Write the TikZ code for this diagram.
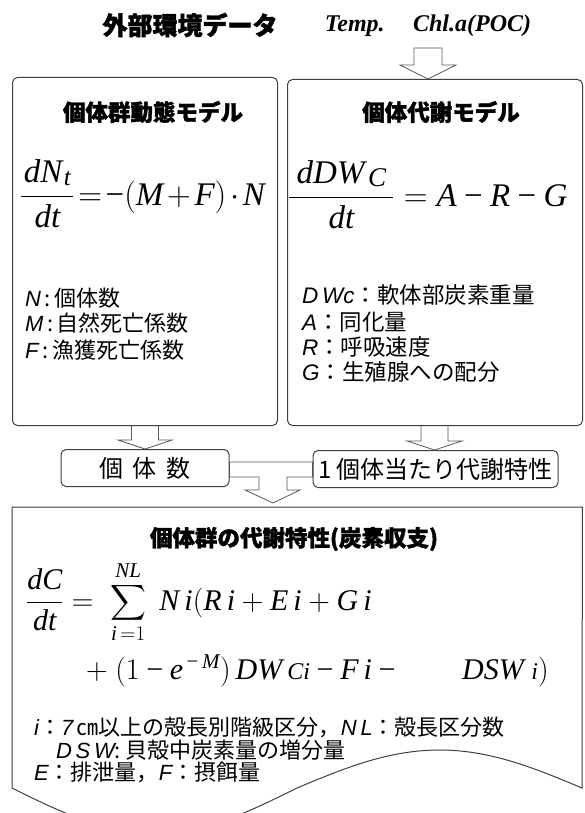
\RequirePackage{fix-cm}
\documentclass[tikz,border=0pt]{standalone}
\usepackage{amsmath}
\usepackage{fontspec}
\setmainfont{Liberation Serif}
\newfontfamily\jpf{Noto Sans CJK JP}[BoldFeatures={FakeBold=1.6}]
\newfontfamily\lsans{Liberation Sans}
\newcommand\latit[1]{{\lsans\itshape #1}}
\newcommand\tmin{\mathbin{\text{−}}}
\usetikzlibrary{calc,backgrounds}
\tikzset{
  frame/.style={draw=black!75, line width=1pt, fill=white},
  rnd/.style={frame, rounded corners=5pt, inner sep=0pt},
  blk/.style={draw=black!65, line width=0.8pt, fill=white, line join=miter},
  jt/.style={font={\jpf\bfseries\fontsize{22.5}{26}\selectfont}, inner sep=0pt},
  leg/.style={font={\jpf\fontsize{22}{26}\selectfont}, anchor=base west, inner sep=0pt},
  eq/.style={anchor=base west, inner sep=0pt},
}
\newcommand\downblk[5]{% tip, head half, head height, shaft half, shaft length
  \draw[blk] (#1) -- ++(-#2,-#3) -- ++({#2-#4},0) -- ++(0,-#5) -- ++({2*#4},0)
    -- ++(0,#5) -- ++({#2-#4},0) -- cycle;}
\begin{document}
\begin{tikzpicture}[x=1pt,y=-1pt]
\useasboundingbox (0,0) rectangle (584,813);
\clip (0,0) rectangle (584,813);

% top labels
\node[jt, font={\jpf\bfseries\fontsize{25}{28}\selectfont}] (env) at (190,25) {外部環境データ};
\node[font={\bfseries\itshape\fontsize{24}{28}\selectfont}, inner sep=0pt, anchor=base] (temp) at (428,32) {Temp.\hspace{0.85em} Chl.a(POC)};

% upper boxes
\node[rnd, minimum width=265pt, minimum height=348pt, anchor=north west] (lbox) at (12,77) {};
\node[rnd, minimum width=295pt, minimum height=346pt, anchor=north west] (rbox) at (287,79) {};
\node[jt] (ltitle) at (153,112) {個体群動態モデル};
\node[jt] (rtitle) at (441,112) {個体代謝モデル};

\node[eq, font={\fontsize{33}{40}\selectfont}] (leq) at (20,205)
  {$\thickmuskip=2mu \medmuskip=2mu\displaystyle\frac{\hbox to 52pt{\hss\textit{dN}\raisebox{-3pt}{\fontsize{25}{25}\selectfont\itshape t}\hss}}{\textit{dt}} = \text{−}(\textit{M} + \textit{F})\cdot \textit{N}$};
\node[eq, font={\fontsize{33}{40}\selectfont}] (req) at (288,206)
  {$\displaystyle\frac{\hbox to 104pt{\hss\textit{dDW}\kern1pt\raisebox{-3pt}{\fontsize{27}{27}\selectfont\itshape C}\hss}}{\textit{dt}} = \textit{A} \tmin \textit{R} \tmin \textit{G}$};

\node[leg] (ln1) at (25,306) {\latit{N}\,:\,個体数};
\node[leg] (ln2) at (25,331) {\latit{M}\,:\,自然死亡係数};
\node[leg] (ln3) at (25,358) {\latit{F}\,:\,漁獲死亡係数};

\node[leg, font={\jpf\fontsize{22.5}{26}\selectfont}] (rn1) at (302,303) {\latit{D\,Wc}：軟体部炭素重量};
\node[leg, font={\jpf\fontsize{22.5}{26}\selectfont}] (rn2) at (302,330) {\latit{A}：同化量};
\node[leg, font={\jpf\fontsize{22.5}{26}\selectfont}] (rn3) at (302,355) {\latit{R}：呼吸速度};
\node[leg, font={\jpf\fontsize{22.5}{26}\selectfont}] (rn4) at (302,380) {\latit{G}：生殖腺への配分};

% middle boxes
\node[rnd, minimum width=168pt, minimum height=37pt, font={\jpf\fontsize{24}{28}\selectfont}] (nbox) at (145,468)
  {個\hspace{0.4em}体\hspace{0.4em}数};
\node[rnd, minimum width=245pt, minimum height=37pt, font={\jpf\fontsize{24}{28}\selectfont}] (mbox) at (435.5,469)
  {1\hspace{0.2em}個体当たり代謝特性};

% bottom box
\node[inner sep=0pt, minimum width=570pt, minimum height=281pt, anchor=north west] (cbox) at (12,507) {};
\draw[frame] (cbox.north west) -- (cbox.north east) -- (582,788)
  -- plot[domain=582:297, samples=60] (\x,{788+38*sin(360*((\x-12)/570))})
  -- plot[domain=297:12, samples=60] (\x,{788+45*sin(360*((\x-12)/570))})
  -- cycle;
\node[jt] (ctitle) at (294,539) {個体群の代謝特性(炭素収支)};

\node[eq, font={\fontsize{30}{36}\selectfont}] (ceq1) at (26,610)
  {$\displaystyle\frac{\textit{dC}}{\textit{dt}} = \;\sum_{\textit{i}\,=1}^{\textit{NL}}\; \textit{N\,i}(\textit{R\,i} + \textit{E\,i} + \textit{G\,i}$};
\node[eq, font={\fontsize{30}{36}\selectfont}] (ceq2) at (86,679)
  {$+\ (1 \tmin \textit{e}^{\,\text{−}\,\textit{M}})\,\textit{DW}\,\text{\fontsize{24}{24}\selectfont\itshape Ci} \tmin \textit{F\,i} \tmin \qquad \textit{DSW}\ \text{\fontsize{24}{24}\selectfont\itshape i})$};

\node[leg] (cl1) at (34,735) {\latit{i}：\latit{7}\,㎝以上の殻長別階級区分，\latit{N\,L}：殻長区分数};
\node[leg] (cl2) at (56,758) {\latit{D\,S\,W}:\ 貝殻中炭素量の増分量};
\node[leg] (cl3) at (34,780) {\latit{E}：排泄量，\latit{F}：摂餌量};

% block arrows and junction, behind the boxes
\coordinate (t1) at (428,79);
\coordinate (t2) at (nbox.north);
\coordinate (t3) at (434.5,450);
\coordinate (jtip) at (273,503);
\begin{scope}[on background layer]
  \downblk{t1}{28}{14}{14}{17}
  \downblk{t2}{27}{9}{13.5}{17}
  \downblk{t3}{27.5}{9}{13.5}{17}
  \draw[blk] (nbox.east |- 0,462) -- (mbox.west |- 0,462) -- (mbox.west |- 0,477)
    -- (287,477) -- (287,490) -- (300,490) -- (jtip) -- (245,490) -- (259,490)
    -- (259,477) -- (nbox.east |- 0,477) -- cycle;
\end{scope}
\end{tikzpicture}
\end{document}
